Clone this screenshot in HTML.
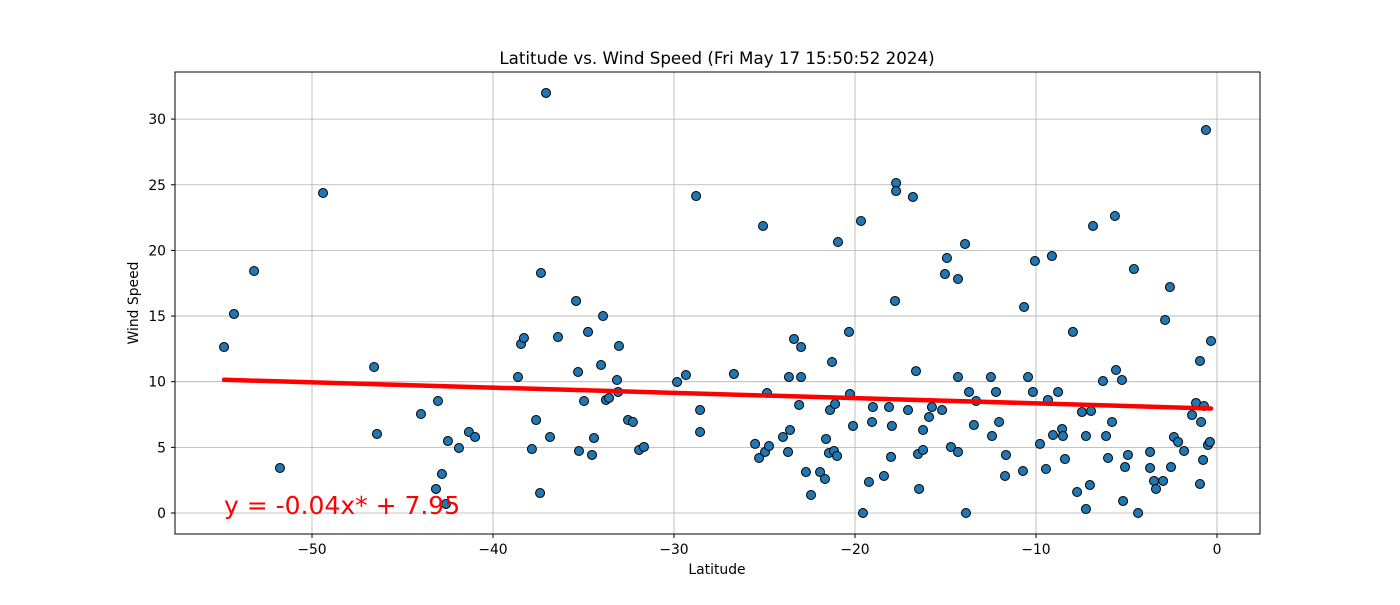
<!DOCTYPE html>
<html><head><meta charset="utf-8"><style>
body{margin:0;background:#fff;}
svg text{font-family:"DejaVu Sans","Liberation Sans",sans-serif;}
</style></head><body>
<svg id="chart" width="1400" height="600" xmlns="http://www.w3.org/2000/svg">
<rect width="1400" height="600" fill="#fff"/>
<g id="grid"></g><g id="axes"></g><g id="pts"></g><g id="fit"></g>
<rect x="175" y="72" width="1085" height="462" fill="none" stroke="#000" stroke-width="1"/>
<text x="717" y="64" text-anchor="middle" font-size="16.7">Latitude vs. Wind Speed (Fri May 17 15:50:52 2024)</text>
<text x="717" y="574" text-anchor="middle" font-size="13.9">Latitude</text>
<text x="138" y="303" text-anchor="middle" font-size="13.9" transform="rotate(-90 138 303)">Wind Speed</text>
<text id="eq" x="224" y="514" font-size="25" fill="#ff0000">y = -0.04x* + 7.95</text>
</svg>
<script>
const lats=[-54.86,-54.31,-53.20,-51.77,-49.39,-46.57,-46.41,-43.98,-43.15,-43.04,-42.82,-42.60,-42.49,-41.88,-41.33,-40.99,-38.62,-38.45,-38.29,-37.85,-37.62,-37.40,-37.35,-37.07,-36.85,-36.41,-35.41,-35.30,-35.25,-34.97,-34.75,-34.53,-34.42,-34.03,-33.92,-33.76,-33.59,-33.15,-33.04,-33.09,-32.54,-32.27,-31.93,-31.66,-29.83,-29.34,-28.78,-28.56,-28.56,-26.69,-25.52,-25.30,-25.08,-24.97,-24.86,-24.75,-23.98,-23.70,-23.65,-23.59,-23.37,-23.09,-22.98,-22.98,-22.71,-22.43,-21.93,-21.66,-21.60,-21.44,-21.38,-21.27,-21.16,-21.10,-20.99,-20.94,-20.33,-20.28,-20.11,-19.67,-19.56,-19.23,-19.06,-19.01,-18.40,-18.12,-18.01,-17.96,-17.79,-17.73,-17.73,-17.07,-16.80,-16.63,-16.52,-16.46,-16.24,-16.24,-15.91,-15.75,-15.19,-15.03,-14.92,-14.70,-14.31,-14.31,-14.31,-13.92,-13.87,-13.70,-13.43,-13.31,-12.49,-12.43,-12.21,-12.04,-11.71,-11.66,-10.72,-10.66,-10.44,-10.17,-10.06,-9.78,-9.45,-9.34,-9.12,-9.06,-8.78,-8.56,-8.51,-8.40,-7.96,-7.73,-7.46,-7.24,-7.24,-6.96,-7.02,-6.85,-6.30,-6.13,-6.02,-5.80,-5.64,-5.58,-5.25,-5.19,-5.08,-4.92,-4.59,-4.36,-3.70,-3.70,-3.48,-3.37,-2.98,-2.87,-2.60,-2.54,-2.38,-2.15,-1.82,-1.38,-1.16,-0.94,-0.94,-0.88,-0.77,-0.72,-0.61,-0.50,-0.39,-0.33];
const winds=[12.64,15.16,18.43,3.43,24.37,11.12,6.02,7.54,1.83,8.53,2.97,0.69,5.48,4.95,6.17,5.79,10.36,12.87,13.33,4.87,7.08,1.52,18.28,31.99,5.79,13.40,16.15,10.74,4.72,8.53,13.79,4.42,5.71,11.27,15.00,8.61,8.76,10.13,12.72,9.22,7.08,6.93,4.80,5.03,9.98,10.51,24.14,7.84,6.17,10.59,5.26,4.19,21.86,4.65,9.14,5.10,5.79,4.65,10.36,6.32,13.25,8.23,12.64,10.36,3.12,1.37,3.12,2.59,5.64,4.57,7.84,11.50,4.72,8.30,4.34,20.64,13.79,9.06,6.63,22.24,0,2.36,6.93,8.07,2.82,8.07,4.27,6.63,16.15,25.13,24.52,7.84,24.07,10.81,4.49,1.83,4.80,6.32,7.31,8.07,7.84,18.20,19.42,5.03,17.82,4.65,10.36,20.49,0,9.22,6.70,8.53,10.36,5.86,9.22,6.93,2.82,4.42,3.20,15.69,10.36,9.22,19.19,5.26,3.35,8.61,19.57,5.94,9.22,6.40,5.86,4.11,13.79,1.60,7.69,5.86,0.30,7.77,2.13,21.86,10.05,5.86,4.19,6.93,22.62,10.89,10.13,0.91,3.50,4.42,18.58,0,4.65,3.43,2.44,1.83,2.44,14.70,17.21,3.50,5.79,5.41,4.72,7.46,8.38,11.58,2.21,6.93,4.04,8.15,29.17,5.18,5.41,13.10];
const xTicks=[-50,-40,-30,-20,-10,0];
const yTicks=[0,5,10,15,20,25,30];
const slope=-0.04, intercept=7.95;
const NS="http://www.w3.org/2000/svg";
const xS=v=>1217+v*18.1;
const yS=v=>513-v*13.13;
function mk(tag,attrs,parent){const e=document.createElementNS(NS,tag);for(const k in attrs)e.setAttribute(k,attrs[k]);document.getElementById(parent).appendChild(e);return e;}
xTicks.forEach(t=>{
  const g=mk('line',{x1:xS(t),x2:xS(t),y1:72,y2:534,stroke:'#b0b0b0','stroke-width':0.8},'grid');
  
  
  mk('line',{x1:xS(t),x2:xS(t),y1:534,y2:538,stroke:'#000'},'axes');
  const l=mk('text',{x:xS(t),y:554,'text-anchor':'middle','font-size':13.9},'axes');
  l.textContent=(t<0?'\u2212'+(-t):t);
  
  
});
yTicks.forEach(t=>{
  const g=mk('line',{x1:175,x2:1260,y1:yS(t),y2:yS(t),stroke:'#b0b0b0','stroke-width':0.8},'grid');
  
  
  mk('line',{x1:171,x2:175,y1:yS(t),y2:yS(t),stroke:'#000'},'axes');
  const l=mk('text',{x:166,y:yS(t)+5,'text-anchor':'end','font-size':13.9},'axes');
  l.textContent=t;
  
  
});
lats.forEach((la,i)=>{
  const c=mk('circle',{cx:xS(la),cy:yS(winds[i]),r:4.5,fill:'#1f77b4',stroke:'#000','stroke-width':1},'pts');
  
  
});
const mn=Math.min(...lats), mx=Math.max(...lats);
const fl=mk('line',{x1:xS(mn),y1:yS(slope*mn+intercept),x2:xS(mx),y2:yS(slope*mx+intercept),stroke:'#ff0000','stroke-width':4.5,'stroke-linecap':'round'},'fit');


</script>
</body></html>
